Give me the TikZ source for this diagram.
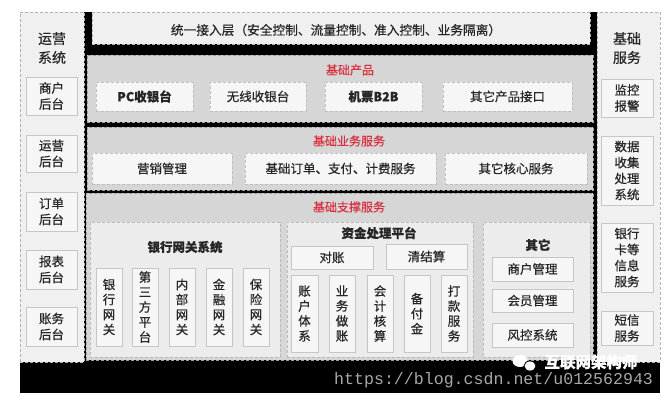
\documentclass[tikz,border=0pt]{standalone}
\usepackage{fontspec}
\setmainfont{Noto Sans CJK SC}[RawFeature={embolden=0.5}]
\newfontfamily\urlfont{Liberation Mono}
\definecolor{txt}{HTML}{262626}
\definecolor{layerfill}{HTML}{D6D6D6}
\definecolor{sidefill}{HTML}{F0F0F0}
\definecolor{boxfill}{HTML}{F6F6F6}
\definecolor{subfill}{HTML}{ECECEC}
\definecolor{ttlred}{HTML}{D93040}
\definecolor{urlgray}{HTML}{A8A8A8}
\newcommand{\mkbox}[7]{\node[#2, anchor=north west, minimum width={#5pt-#3pt}, minimum height={#6pt-#4pt}] (#1) at (#3,#4) {#7};}
\tikzset{
  base/.style={inner sep=0pt, outer sep=0pt, align=center, text=txt},
  bg/.style={base, fill=black},
  side/.style={base, fill=sidefill, draw=gray!60, densely dashed, line width=0.6pt},
  layer/.style={base, fill=layerfill, draw=gray!75, densely dashed, line width=0.7pt},
  sub/.style={base, fill=subfill, draw=gray!55, densely dashed, line width=0.6pt},
  dbox/.style={base, fill=boxfill, draw=gray!50, densely dashed, line width=0.6pt, font=\fontsize{12.5}{16}\selectfont},
  sbox/.style={base, fill=boxfill, draw=gray!45, line width=0.6pt, font=\fontsize{12.5}{16}\selectfont},
  vbox/.style={sbox, font=\fontsize{12.5}{15}\selectfont},
  sidettl/.style={base, font=\fontsize{14}{19}\selectfont},
  layttl/.style={base, text=ttlred, font=\fontsize{12}{14}\selectfont},
  subttl/.style={base, font=\fontsize{12.5}{14}\selectfont\bfseries},
}
\begin{document}
\begin{tikzpicture}[x=1pt,y=-1pt]
\useasboundingbox (0,0) rectangle (665,400);
% black background
\mkbox{bgnd}{bg}{20}{12}{660}{393}{}
% left column
\mkbox{left}{side}{20}{12}{84}{362}{}
\node[sidettl] (leftttl) at (52,48) {运营\\系统};
\mkbox{l1}{sbox}{26}{77}{77}{115}{商户\\后台}
\mkbox{l2}{sbox}{26}{135}{77}{172}{运营\\后台}
\mkbox{l3}{sbox}{26}{192}{77}{231}{订单\\后台}
\mkbox{l4}{sbox}{26}{250}{77}{289}{报表\\后台}
\mkbox{l5}{sbox}{26}{307}{77}{346}{账务\\后台}
% right column
\mkbox{right}{side}{597}{12}{660}{362}{}
\node[sidettl] (rightttl) at (627,48) {基础\\服务};
\mkbox{r1}{sbox}{601}{79}{653}{117}{监控\\报警}
\mkbox{r2}{sbox}{601}{136}{653}{205}{数据\\收集\\处理\\系统}
\mkbox{r3}{sbox}{601}{223}{653}{292}{银行\\卡等\\信息\\服务}
\mkbox{r4}{sbox}{601}{311}{653}{345}{短信\\服务}
% top access layer
\mkbox{top}{side}{92}{12}{590}{44}{}
\node[base, font=\fontsize{12.7}{15}\selectfont] (topttl) at (336,30) {统一接入层（安全控制、流量控制、准入控制、业务隔离）};
% layer 1
\mkbox{lay1}{layer}{87}{55}{593}{122}{}
\node[layttl] (lay1ttl) at (350,70) {基础产品};
\mkbox{p1}{dbox}{96}{82}{193}{111}{\bfseries PC收银台}
\mkbox{p2}{dbox}{210}{82}{306}{111}{无线收银台}
\mkbox{p3}{dbox}{325}{82}{422}{111}{\bfseries 机票B2B}
\mkbox{p4}{dbox}{443}{82}{572}{111}{其它产品接口}
% layer 2
\mkbox{lay2}{layer}{87}{127}{593}{190}{}
\node[layttl] (lay2ttl) at (349,141) {基础业务服务};
\mkbox{s1}{dbox}{92}{153}{232}{184}{营销管理}
\mkbox{s2}{dbox}{245}{153}{436}{184}{基础订单、支付、计费服务}
\mkbox{s3}{dbox}{445}{153}{587}{184}{其它核心服务}
% layer 3
\mkbox{lay3}{layer}{86}{193}{593}{360}{}
\node[layttl] (lay3ttl) at (349,207) {基础支撑服务};
% bank gateway
\mkbox{bank}{sub}{90}{222}{280}{357}{}
\node[subttl] (bankttl) at (185,247) {银行网关系统};
\mkbox{g1}{vbox}{96}{268}{122}{346}{银\\行\\网\\关}
\mkbox{g2}{vbox}{132}{268}{158}{346}{第\\三\\方\\平\\台}
\mkbox{g3}{vbox}{169}{268}{195}{346}{内\\部\\网\\关}
\mkbox{g4}{vbox}{206}{268}{232}{346}{金\\融\\网\\关}
\mkbox{g5}{vbox}{243}{268}{269}{346}{保\\险\\网\\关}
% fund platform
\mkbox{fund}{sub}{287}{222}{473}{357}{}
\node[subttl] (fundttl) at (379,233) {资金处理平台};
\mkbox{f1}{sbox}{291}{246}{373}{269}{对账}
\mkbox{f2}{sbox}{386}{244}{467}{269}{清结算}
\mkbox{f3}{vbox}{291}{275}{318}{352}{账\\户\\体\\系}
\mkbox{f4}{vbox}{329}{275}{355}{352}{业\\务\\做\\账}
\mkbox{f5}{vbox}{367}{275}{393}{352}{会\\计\\核\\算}
\mkbox{f6}{vbox}{404}{275}{430}{352}{备\\付\\金}
\mkbox{f7}{vbox}{441}{275}{467}{352}{打\\款\\服\\务}
% others
\mkbox{oth}{sub}{483}{222}{590}{357}{}
\node[subttl] (othttl) at (538,245) {其它};
\mkbox{o1}{sbox}{492}{257}{573}{281}{商户管理}
\mkbox{o2}{sbox}{492}{289}{573}{312}{会员管理}
\mkbox{o3}{sbox}{492}{323}{573}{347}{风控系统}
% watermark
\fill[white] (520,361) ellipse (7.5 and 6);
\fill[white] (530,366) ellipse (6 and 5);
\draw[black, line width=0.8pt] (530,366) ellipse (6 and 5);
\node[base, text=white, font=\fontsize{15.5}{17}\selectfont\bfseries] (wm) at (591,362) {互联网架构师};
\node[base, text=urlgray, font=\urlfont\fontsize{16.6}{18}\selectfont, anchor=east] (url) at (653,380) {https://blog.csdn.net/u012562943};
\end{tikzpicture}
\end{document}
